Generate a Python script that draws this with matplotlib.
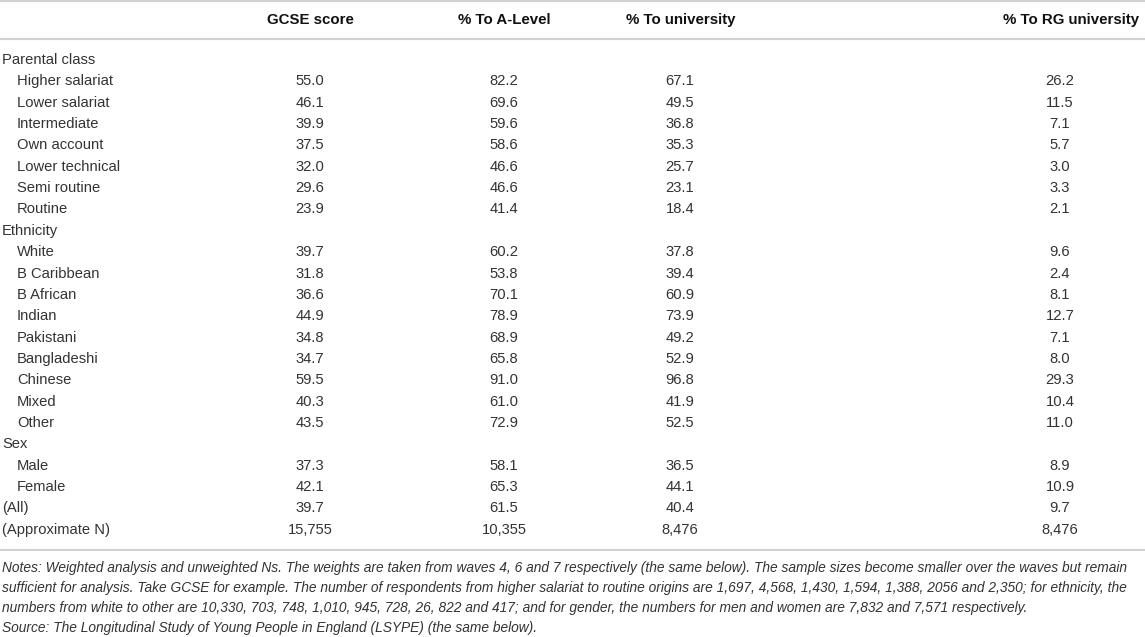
import matplotlib
matplotlib.use("Agg")
import matplotlib.pyplot as plt

plt.rcParams['font.family'] = ['Liberation Sans', 'DejaVu Sans']

# Table content
columns = ['GCSE score', '% To A-Level', '% To university', '% To RG university']
rows = [
    ('Parental class', None),
    ('Higher salariat', ['55.0', '82.2', '67.1', '26.2']),
    ('Lower salariat', ['46.1', '69.6', '49.5', '11.5']),
    ('Intermediate', ['39.9', '59.6', '36.8', '7.1']),
    ('Own account', ['37.5', '58.6', '35.3', '5.7']),
    ('Lower technical', ['32.0', '46.6', '25.7', '3.0']),
    ('Semi routine', ['29.6', '46.6', '23.1', '3.3']),
    ('Routine', ['23.9', '41.4', '18.4', '2.1']),
    ('Ethnicity', None),
    ('White', ['39.7', '60.2', '37.8', '9.6']),
    ('B Caribbean', ['31.8', '53.8', '39.4', '2.4']),
    ('B African', ['36.6', '70.1', '60.9', '8.1']),
    ('Indian', ['44.9', '78.9', '73.9', '12.7']),
    ('Pakistani', ['34.8', '68.9', '49.2', '7.1']),
    ('Bangladeshi', ['34.7', '65.8', '52.9', '8.0']),
    ('Chinese', ['59.5', '91.0', '96.8', '29.3']),
    ('Mixed', ['40.3', '61.0', '41.9', '10.4']),
    ('Other', ['43.5', '72.9', '52.5', '11.0']),
    ('Sex', None),
    ('Male', ['37.3', '58.1', '36.5', '8.9']),
    ('Female', ['42.1', '65.3', '44.1', '10.9']),
]
totals = [
    ('(All)', ['39.7', '61.5', '40.4', '9.7']),
    ('(Approximate N)', ['15,755', '10,355', '8,476', '8,476']),
]
notes = [
    "Notes: Weighted analysis and unweighted Ns. The weights are taken from waves 4, 6 and 7 respectively (the same below). The sample sizes become smaller over the waves but remain",
    "sufficient for analysis. Take GCSE for example. The number of respondents from higher salariat to routine origins are 1,697, 4,568, 1,430, 1,594, 1,388, 2056 and 2,350; for ethnicity, the",
    "numbers from white to other are 10,330, 703, 748, 1,010, 945, 728, 26, 822 and 417; and for gender, the numbers for men and women are 7,832 and 7,571 respectively.",
    "Source: The Longitudinal Study of Young People in England (LSYPE) (the same below).",
]

W, H = 1145, 637
fig = plt.figure(figsize=(W / 100, H / 100), dpi=100)
ax = fig.add_axes([0, 0, 1, 1])
ax.set_xlim(0, W)
ax.set_ylim(H, 0)
ax.axis('off')

txt = '#333333'
line_c = '#d0d0d0'
fs = 10.6

head_x = [310, 504, 681, 1071]
val_x = [310, 504, 680, 1060]

# header
ax.axhline(1, color=line_c, lw=1.5)
for x, c in zip(head_x, columns):
    ax.text(x, 20, c, ha='center', va='center', fontsize=10.8, fontweight='bold', color='#111111')
ax.axhline(39, color=line_c, lw=1.5)

# body rows
y0, dy = 60, 21.35
all_rows = rows + totals
for i, (label, vals) in enumerate(all_rows):
    y = y0 + i * dy
    indent = 17 if (vals is not None and i < len(rows)) else 2
    ax.text(indent, y, label, ha='left', va='center', fontsize=fs, color=txt)
    if vals:
        for x, v in zip(val_x, vals):
            ax.text(x, y, v, ha='center', va='center', fontsize=fs, color=txt)

ax.axhline(550, color=line_c, lw=1.5)

# notes
for i, n in enumerate(notes):
    ax.text(2, 568 + i * 20, n, ha='left', va='center', fontsize=9.9, style='italic', color=txt)

fig.savefig('out.png', dpi=100)
